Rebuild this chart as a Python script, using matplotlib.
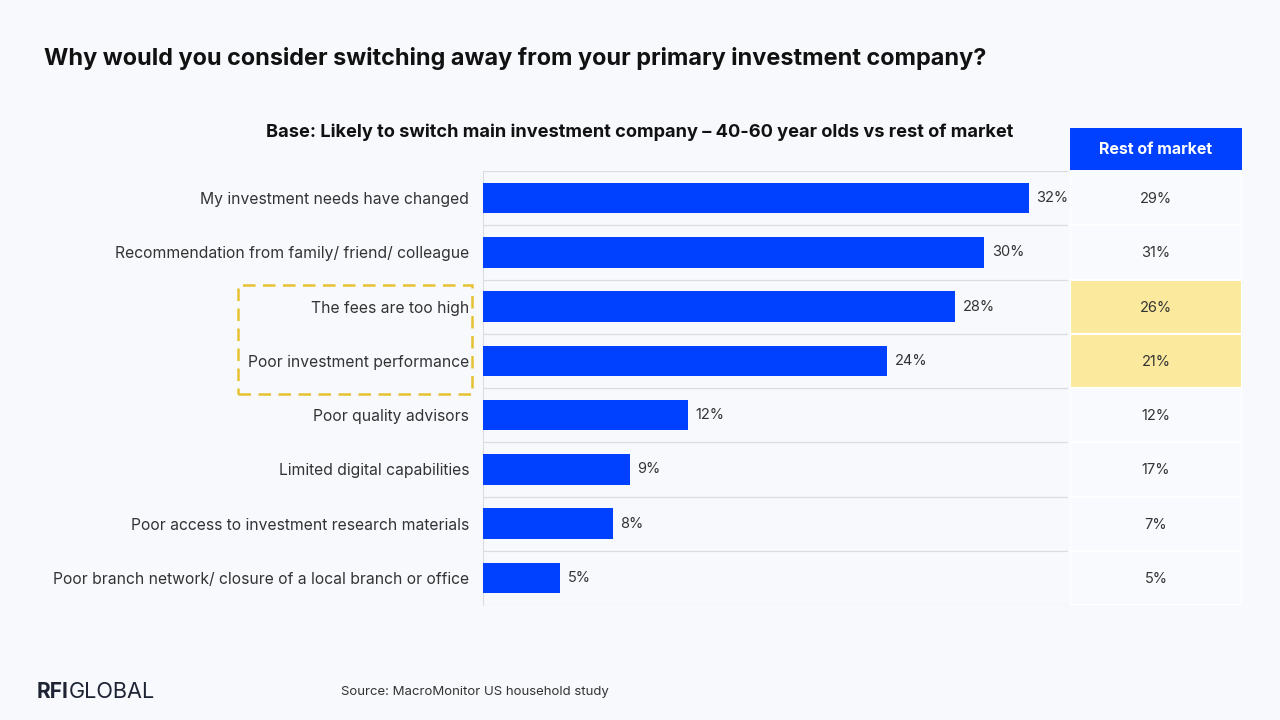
import matplotlib
matplotlib.use("Agg")
from matplotlib import pyplot as plt
from matplotlib.patches import Rectangle

plt.rcParams["font.family"] = ["Inter", "DejaVu Sans"]

categories = [
    "My investment needs have changed",
    "Recommendation from family/ friend/ colleague",
    "The fees are too high",
    "Poor investment performance",
    "Poor quality advisors",
    "Limited digital capabilities",
    "Poor access to investment research materials",
    "Poor branch network/ closure of a local branch or office",
]
# bar lengths (unrounded) and the printed labels
age_40_60 = [32.0, 29.4, 27.7, 23.7, 12.0, 8.6, 7.6, 4.5]
age_40_60_labels = ["32%", "30%", "28%", "24%", "12%", "9%", "8%", "5%"]
rest_of_market = ["29%", "31%", "26%", "21%", "12%", "17%", "7%", "5%"]
highlight_rows = [2, 3]

BG = "#F7F9FD"
BLUE = "#0040FF"
YELLOW = "#FBEA9E"
TEXT = "#333333"

W, H = 1280, 720
fig = plt.figure(figsize=(12.8, 7.2), dpi=100)
fig.patch.set_facecolor(BG)

def px(x0, y0, x1, y1):
    return [x0 / W, 1 - y1 / H, (x1 - x0) / W, (y1 - y0) / H]

n = len(categories)
ax = fig.add_axes(px(483, 171, 1068, 605))
ax.set_facecolor(BG)
ys = list(range(n))
ax.barh(ys, age_40_60, height=0.56, color=BLUE, zorder=3)
ax.set_xlim(0, 34.3)
ax.set_ylim(n - 0.5, -0.5)
for y, v, lab in zip(ys, age_40_60, age_40_60_labels):
    ax.text(v + 0.45, y, lab, va="center", ha="left", fontsize=10.5, color=TEXT)
for b in range(n + 1):
    ax.axhline(b - 0.5, color="#D9DCE3", lw=0.9, zorder=1)
ax.set_yticks(ys)
ax.set_yticklabels(categories, fontsize=11.3, color=TEXT)
ax.tick_params(axis="y", length=0, pad=10)
ax.set_xticks([])
for s in ["top", "right", "bottom"]:
    ax.spines[s].set_visible(False)
ax.spines["left"].set_color("#D9DCE3")

# table column
tax = fig.add_axes(px(1070, 171, 1242, 605))
tax.set_xlim(0, 1)
tax.set_ylim(n - 0.5, -0.5)
tax.axis("off")
for y, v in enumerate(rest_of_market):
    fc = YELLOW if y in highlight_rows else "#F9FAFE"
    tax.add_patch(Rectangle((0, y - 0.5), 1, 1, facecolor=fc, edgecolor="white", lw=1.5))
    tax.text(0.5, y + 0.02, v, ha="center", va="center", fontsize=10.5, color=TEXT)

hax = fig.add_axes(px(1070, 128, 1242, 170))
hax.set_facecolor(BLUE)
hax.set_xticks([])
hax.set_yticks([])
for s in hax.spines.values():
    s.set_visible(False)
hax.text(0.5, 0.5, "Rest of market", ha="center", va="center", fontsize=11.5,
         color="white", fontweight="bold")

# dashed highlight box
fig.add_artist(Rectangle((238 / W, 1 - 394 / H), (472 - 238) / W, (394 - 285) / H,
                         fill=False, edgecolor="#E5C232", lw=1.8, ls=(0, (5, 3)),
                         transform=fig.transFigure))

fig.text(44 / W, 1 - 58 / H, "Why would you consider switching away from your primary investment company?",
         fontsize=16.9, fontweight="bold", color="#111111", va="center")
fig.text(640 / W, 1 - 132 / H,
         "Base: Likely to switch main investment company \u2013 40-60 year olds vs rest of market",
         fontsize=13.1, fontweight="bold", color="#111111", va="center", ha="center")

fig.text(37 / W, 1 - 692 / H, "RFI", fontsize=15, fontweight="bold", color="#1E2433", va="center")
fig.text(69 / W, 1 - 692 / H, "GLOBAL", fontsize=15.6, color="#1E2433", va="center")
fig.text(341 / W, 1 - 692 / H, "Source: MacroMonitor US household study", fontsize=9.5,
         color=TEXT, va="center")

fig.savefig("out.png", dpi=100, facecolor=BG)
